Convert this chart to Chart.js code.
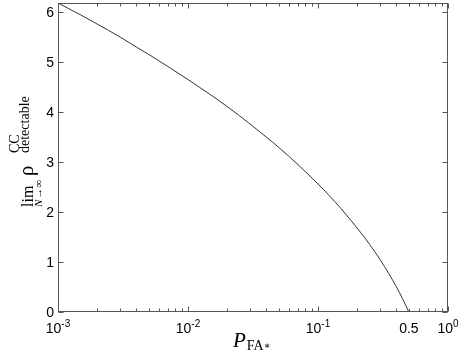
<!DOCTYPE html>
<html>
<head>
<meta charset="utf-8">
<script src="https://cdn.jsdelivr.net/npm/chart.js@4.4.0/dist/chart.umd.min.js"></script>
<style>
  html, body { margin: 0; padding: 0; background: #fff; }
  #wrap { width: 463px; height: 354px; }
</style>
</head>
<body>
<div id="wrap"><canvas id="myChart" width="463" height="354"></canvas></div>
<script>
// values
var pfaValues = [0.001, 0.0015, 0.002, 0.003, 0.004, 0.005, 0.007, 0.01, 0.015, 0.02, 0.03, 0.04,
                 0.05, 0.07, 0.1, 0.12, 0.15, 0.2, 0.25, 0.3, 0.35, 0.4, 0.45, 0.5];
var rhoValues = [6.18, 5.94, 5.76, 5.50, 5.30, 5.15, 4.91, 4.65, 4.34, 4.11, 3.76, 3.50,
                 3.29, 2.95, 2.56, 2.35, 2.07, 1.68, 1.35, 1.05, 0.77, 0.51, 0.25, 0.00];

var yTicks = [0, 1, 2, 3, 4, 5, 6];
var xTickValues = [0.001, 0.01, 0.1, 0.5, 1];
var xTickLabels = ['10^-3', '10^-2', '10^-1', '0.5', '10^0'];

var axisColor = '#555';
var sansFont = '"Liberation Sans", Arial, Helvetica, sans-serif';
var serifFont = '"Liberation Serif", "Times New Roman", serif';

var points = pfaValues.map(function (p, i) {
    return { x: p, y: rhoValues[i] };
});

// box, inward ticks, labels
var axesPlugin = {
    id: 'matlabAxes',
    afterDraw: function (chart) {
        var ctx = chart.ctx;
        var a = chart.chartArea;
        var xs = chart.scales.x;
        var ys = chart.scales.y;
        var L = Math.round(a.left) + 0.5, R = Math.round(a.right) - 0.5;
        var T = Math.round(a.top) + 0.5, B = Math.round(a.bottom) - 0.5;

        ctx.save();
        ctx.strokeStyle = axisColor;
        ctx.lineWidth = 1;
        ctx.strokeRect(L, T, R - L, B - T);

        ctx.beginPath();
        // y ticks both sides
        yTicks.forEach(function (v) {
            var py = Math.round(ys.getPixelForValue(v)) + 0.5;
            ctx.moveTo(L, py); ctx.lineTo(L + 5, py);
            ctx.moveTo(R, py); ctx.lineTo(R - 5, py);
        });
        // x ticks (log decades + minors)
        for (var d = -3; d <= 0; d++) {
            for (var m = 1; m <= 9; m++) {
                var v = m * Math.pow(10, d);
                if (v > 1.0000001) break;
                var px = Math.round(xs.getPixelForValue(v)) + 0.5;
                var len = (m === 1) ? 5 : 3;
                ctx.moveTo(px, B); ctx.lineTo(px, B - len);
                ctx.moveTo(px, T); ctx.lineTo(px, T + len);
            }
        }
        ctx.stroke();

        // y tick labels
        ctx.fillStyle = '#000';
        ctx.font = '14px ' + sansFont;
        ctx.textAlign = 'right';
        ctx.textBaseline = 'middle';
        yTicks.forEach(function (v) {
            var py = ys.getPixelForValue(v);
            ctx.fillText(String(v), a.left - 4, py + 1);
        });

        // x tick labels
        ctx.textAlign = 'left';
        ctx.textBaseline = 'alphabetic';
        xTickValues.forEach(function (v, i) {
            var parts = xTickLabels[i].split('^');
            var px = xs.getPixelForValue(v);
            ctx.font = '14px ' + sansFont;
            var w1 = ctx.measureText(parts[0]).width;
            var w2 = 0;
            if (parts[1]) {
                ctx.font = '10px ' + sansFont;
                w2 = ctx.measureText(parts[1]).width;
            }
            var x0 = px - (w1 + w2) / 2;
            ctx.font = '14px ' + sansFont;
            ctx.fillText(parts[0], x0, 333);
            if (parts[1]) {
                ctx.font = '10px ' + sansFont;
                ctx.fillText(parts[1], x0 + w1, 327);
            }
        });

        // x axis label  P_FA*
        ctx.font = 'italic 21px ' + serifFont;
        ctx.fillText('P', 233, 347);
        var wp = ctx.measureText('P').width;
        ctx.font = '14px ' + serifFont;
        ctx.fillText('FA', 233 + wp + 1, 350);
        var wfa = ctx.measureText('FA').width;
        ctx.font = '10px "DejaVu Serif", serif';
        ctx.fillText('\u2217', 233 + wp + 1 + wfa, 349);

        // y axis label  lim_{N->inf} rho^{CC}_{detectable}
        ctx.translate(33, 207);
        ctx.rotate(-Math.PI / 2);
        ctx.font = '16px ' + serifFont;
        ctx.fillText('lim', 0, 0);
        ctx.font = 'italic 11px ' + serifFont;
        ctx.fillText('N', 0, 9);
        var wn = ctx.measureText('N').width;
        ctx.font = '11px ' + serifFont;
        ctx.fillText('\u2192\u221E', wn + 1, 9);
        ctx.font = '21px ' + serifFont;
        ctx.fillText('\u03C1', 31, 0);
        ctx.font = '14px ' + serifFont;
        ctx.fillText('CC', 54, -14);
        ctx.fillText('detectable', 54, -4);
        ctx.restore();
    }
};

var xx = new Chart(document.getElementById('myChart'), {
    type: 'line',
    data: {
        datasets: [{
            data: points,
            borderColor: '#333',
            borderWidth: 1,
            pointRadius: 0,
            fill: false,
            cubicInterpolationMode: 'monotone'
        }]
    },
    options: {
        responsive: false,
        animation: false,
        layout: { padding: { top: 3, right: 15, left: 0, bottom: 0 } },
        plugins: { legend: { display: false }, tooltip: { enabled: false } },
        scales: {
            x: {
                type: 'logarithmic',
                min: 0.001,
                max: 1,
                grid: { display: false },
                border: { display: false },
                ticks: { display: false },
                afterFit: function (s) { s.height = 42; }
            },
            y: {
                type: 'linear',
                min: 0,
                max: 6.18,
                grid: { display: false },
                border: { display: false },
                ticks: { display: false },
                afterFit: function (s) { s.width = 58; }
            }
        }
    },
    plugins: [axesPlugin]
});
</script>
</body>
</html>
